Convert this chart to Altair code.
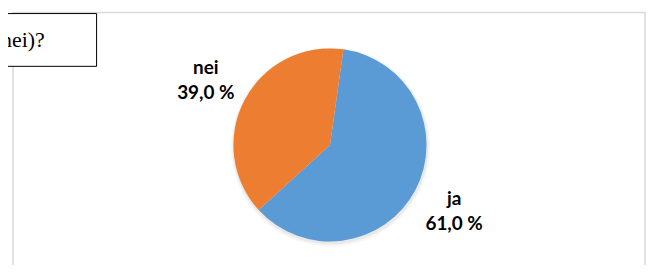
import math
import altair as alt
import pandas as pd

# ---- data ----
categories = ["ja", "nei"]
values = [61.0, 39.0]
box_text = "nei)?"
colors = ["#5B9BD5", "#ED7D31"]

labels = [f"{c}\n{v:.1f} %".replace(".", ",") for c, v in zip(categories, values)]
df = pd.DataFrame({"cat": categories, "val": values, "label": labels})
one = pd.DataFrame({"k": [0]})

# ---- layout (chart coordinates) ----
CX, CY, R = 323.5, 137, 97
START = math.radians(8)

theta_scale = alt.Scale(range=[START, START + 2 * math.pi])
theta = alt.Theta("val:Q", stack=True, scale=theta_scale)
color = alt.Color("cat:N", scale=alt.Scale(domain=categories, range=colors), legend=None)

border = alt.Chart(one).mark_rect(fillOpacity=0, stroke="#d9d9d9", strokeWidth=1.5).encode(
    x=alt.value(5), x2=alt.value(640), y=alt.value(4), y2=alt.value(320)
)

shadow1 = alt.Chart(one).mark_arc(theta=0, theta2=2 * math.pi, outerRadius=R + 3, color="#000", opacity=0.035).encode(
    x=alt.value(CX + 0.5), y=alt.value(CY + 2)
)
shadow2 = alt.Chart(one).mark_arc(theta=0, theta2=2 * math.pi, outerRadius=R + 1.5, color="#000", opacity=0.05).encode(
    x=alt.value(CX + 0.5), y=alt.value(CY + 1.5)
)

pie = alt.Chart(df).mark_arc(outerRadius=R).encode(
    theta=theta, color=color, x=alt.value(CX), y=alt.value(CY)
)

text = alt.Chart(df).mark_text(
    radius=141, dy=-11.5, font="Lato", fontWeight="bold", fontSize=19, lineBreak="\n", lineHeight=25,
    align="center", baseline="middle", color="#000000"
).encode(theta=theta, text="label:N", x=alt.value(CX), y=alt.value(CY))

box = alt.Chart(one).mark_rect(fill="white", stroke="black", strokeWidth=1).encode(
    x=alt.value(-20), x2=alt.value(89), y=alt.value(5), y2=alt.value(58)
)
box_label = alt.Chart(one).mark_text(
    font="Liberation Serif", fontSize=22, align="right", baseline="alphabetic", color="black"
).encode(x=alt.value(37), y=alt.value(39), text=alt.value(box_text))

chart = alt.layer(border, shadow1, shadow2, pie, text, box, box_label).properties(
    width=641, height=257, padding=0, autosize="none"
).configure_view(stroke=None)

chart.save("out.html", embed_options={"renderer": "svg", "actions": False})
